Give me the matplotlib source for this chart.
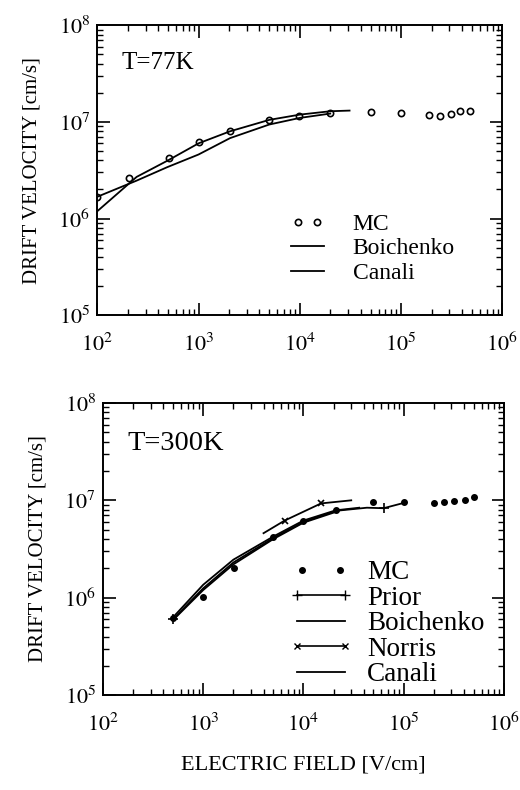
"""
Drift velocity vs electric field at 77K and 300K (MC vs literature)"""

import numpy as np
import matplotlib.pyplot as plt
from matplotlib.ticker import LogLocator, NullFormatter
from matplotlib.legend_handler import HandlerLine2D

# ---- T = 77K ----
MC77_E = [100, 205, 515, 1000, 2050, 5000, 9800, 2.0e4, 5.0e4, 1.0e5, 1.9e5, 2.4e5, 3.1e5, 3.8e5, 4.8e5]
MC77_V = [1.68e6, 2.6e6, 4.26e6, 6.2e6, 8.05e6, 1.04e7, 1.14e7, 1.23e7, 1.27e7, 1.24e7, 1.19e7, 1.15e7, 1.21e7, 1.29e7, 1.31e7]

BOI77_E = [100, 245, 490, 1000, 2050, 5000, 1.0e4, 2.0e4]
BOI77_V = [1.68e6, 2.47e6, 3.4e6, 4.6e6, 6.8e6, 9.4e6, 1.1e7, 1.22e7]

CAN77_E = [100, 245, 500, 1000, 2050, 5000, 1.0e4, 2.0e4, 3.1e4]
CAN77_V = [1.19e6, 2.7e6, 4.0e6, 6.0e6, 8.0e6, 1.05e7, 1.19e7, 1.29e7, 1.31e7]

# ---- T = 300K ----
MC300_E = [500, 1000, 2030, 5000, 1.0e4, 2.1e4, 5.0e4, 1.0e5, 2.0e5, 2.5e5, 3.2e5, 4.1e5, 5.0e5]
MC300_V = [6.2e5, 1.02e6, 2.0e6, 4.2e6, 6.1e6, 8.05e6, 9.6e6, 9.6e6, 9.4e6, 9.6e6, 9.9e6, 1.01e7, 1.08e7]

PRIOR_E = [500, 1000, 2000, 5000, 1.0e4, 2.1e4, 4.3e4, 6.3e4, 1.0e5]
PRIOR_V = [6.0e5, 1.25e6, 2.3e6, 4.1e6, 6.0e6, 7.8e6, 8.4e6, 8.3e6, 9.4e6]
PRIOR_MARK_E = [500, 6.3e4]
PRIOR_MARK_V = [6.0e5, 8.3e6]

BOI300_E = [500, 1000, 2000, 5000, 1.0e4, 2.1e4, 3.6e4]
BOI300_V = [6.3e5, 1.36e6, 2.46e6, 4.25e6, 6.2e6, 7.9e6, 8.4e6]

NOR_E = [4000, 6500, 1.5e4, 3.0e4]
NOR_V = [4.6e6, 6.2e6, 9.3e6, 1.0e7]
NOR_MARK_E = [6500, 1.5e4]
NOR_MARK_V = [6.2e6, 9.3e6]

CAN300_E = [500, 1000, 2000, 5000, 1.0e4, 2.1e4]
CAN300_V = [5.9e5, 1.2e6, 2.2e6, 4.0e6, 5.9e6, 7.6e6]

XTICKS = [1e2, 1e3, 1e4, 1e5, 1e6]
XLABELS = ['$10^2$', '$10^3$', '$10^4$', '$10^5$', '$10^6$']
YTICKS = [1e5, 1e6, 1e7, 1e8]
YLABELS = ['$10^5$', '$10^6$', '$10^7$', '$10^8$']

plt.rcParams['font.family'] = ['Liberation Serif', 'DejaVu Serif']
plt.rcParams['mathtext.fontset'] = 'stix'


def style_axes(ax):
    ax.set_xscale('log')
    ax.set_yscale('log')
    ax.set_xlim(1e2, 1e6)
    ax.set_ylim(1e5, 1e8)
    ax.set_xticks(XTICKS)
    ax.set_xticklabels(XLABELS)
    ax.set_yticks(YTICKS)
    ax.set_yticklabels(YLABELS)
    ax.xaxis.set_minor_locator(LogLocator(base=10, subs=np.arange(2, 10)))
    ax.yaxis.set_minor_locator(LogLocator(base=10, subs=np.arange(2, 10)))
    ax.xaxis.set_minor_formatter(NullFormatter())
    ax.yaxis.set_minor_formatter(NullFormatter())
    ax.tick_params(which='both', direction='in', top=True, right=True, labelsize=16)
    ax.tick_params(which='major', length=9, width=1.2)
    ax.tick_params(which='minor', length=4, width=1)
    ax.tick_params(axis='x', pad=13)
    ax.tick_params(axis='y', pad=5)
    for s in ax.spines.values():
        s.set_linewidth(1.4)
    ax.set_ylabel('DRIFT VELOCITY [cm/s]', fontsize=15, labelpad=12)


fig = plt.figure(figsize=(5.2, 7.9), dpi=100)
ax1 = fig.add_axes([0.187, 0.601, 0.779, 0.367])
ax2 = fig.add_axes([0.198, 0.120, 0.771, 0.370])

# top panel
style_axes(ax1)
mc77, = ax1.plot(MC77_E, MC77_V, 'o', ls='none', mfc='white', mec='black', ms=4.5, mew=1.2, label='MC')
ax1.plot(BOI77_E, BOI77_V, color='black', lw=1.3, label='Boichenko')
ax1.plot(CAN77_E, CAN77_V, color='black', lw=1.3, label='Canali')
ax1.text(0.06, 0.85, 'T=77K', transform=ax1.transAxes, fontsize=18)
ax1.legend(loc='lower right', bbox_to_anchor=(0.935, 0.035), frameon=False, numpoints=2,
           fontsize=17, handlelength=2.0, labelspacing=0.12, handletextpad=0.9,
           handler_map={mc77: HandlerLine2D(numpoints=2, marker_pad=0.6)})

# bottom panel
style_axes(ax2)
ax2.plot(MC300_E, MC300_V, 'o', ls='none', color='black', ms=4, label='MC')
ax2.plot(PRIOR_E, PRIOR_V, color='black', lw=1.3)
ax2.plot(PRIOR_MARK_E, PRIOR_MARK_V, '+', ls='none', color='black', ms=7, mew=1.2)
ax2.plot(BOI300_E, BOI300_V, color='black', lw=1.3)
ax2.plot(NOR_E, NOR_V, color='black', lw=1.3)
ax2.plot(NOR_MARK_E, NOR_MARK_V, 'x', ls='none', color='black', ms=5, mew=1.2)
ax2.plot(CAN300_E, CAN300_V, color='black', lw=1.3)
# legend proxies
h_mc = plt.Line2D([], [], marker='o', ls='none', color='black', ms=4)
h_prior = plt.Line2D([], [], color='black', lw=1.2, marker='+', ms=7)
h_boi = plt.Line2D([], [], color='black', lw=1.3)
h_nor = plt.Line2D([], [], color='black', lw=1.2, marker='x', ms=4)
h_can = plt.Line2D([], [], color='black', lw=1.3)
ax2.legend([h_mc, h_prior, h_boi, h_nor, h_can], ['MC', 'Prior', 'Boichenko', 'Norris', 'Canali'],
           loc='lower right', bbox_to_anchor=(1.012, -0.057), frameon=False, numpoints=2,
           fontsize=19.5, handlelength=2.4, labelspacing=0.02, handletextpad=0.5,
           handler_map={h_mc: HandlerLine2D(numpoints=2, marker_pad=0.5)})
ax2.text(0.06, 0.84, 'T=300K', transform=ax2.transAxes, fontsize=20.5)
ax2.set_xlabel('ELECTRIC FIELD [V/cm]', fontsize=16, labelpad=14)

plt.savefig('out.png', dpi=100)
